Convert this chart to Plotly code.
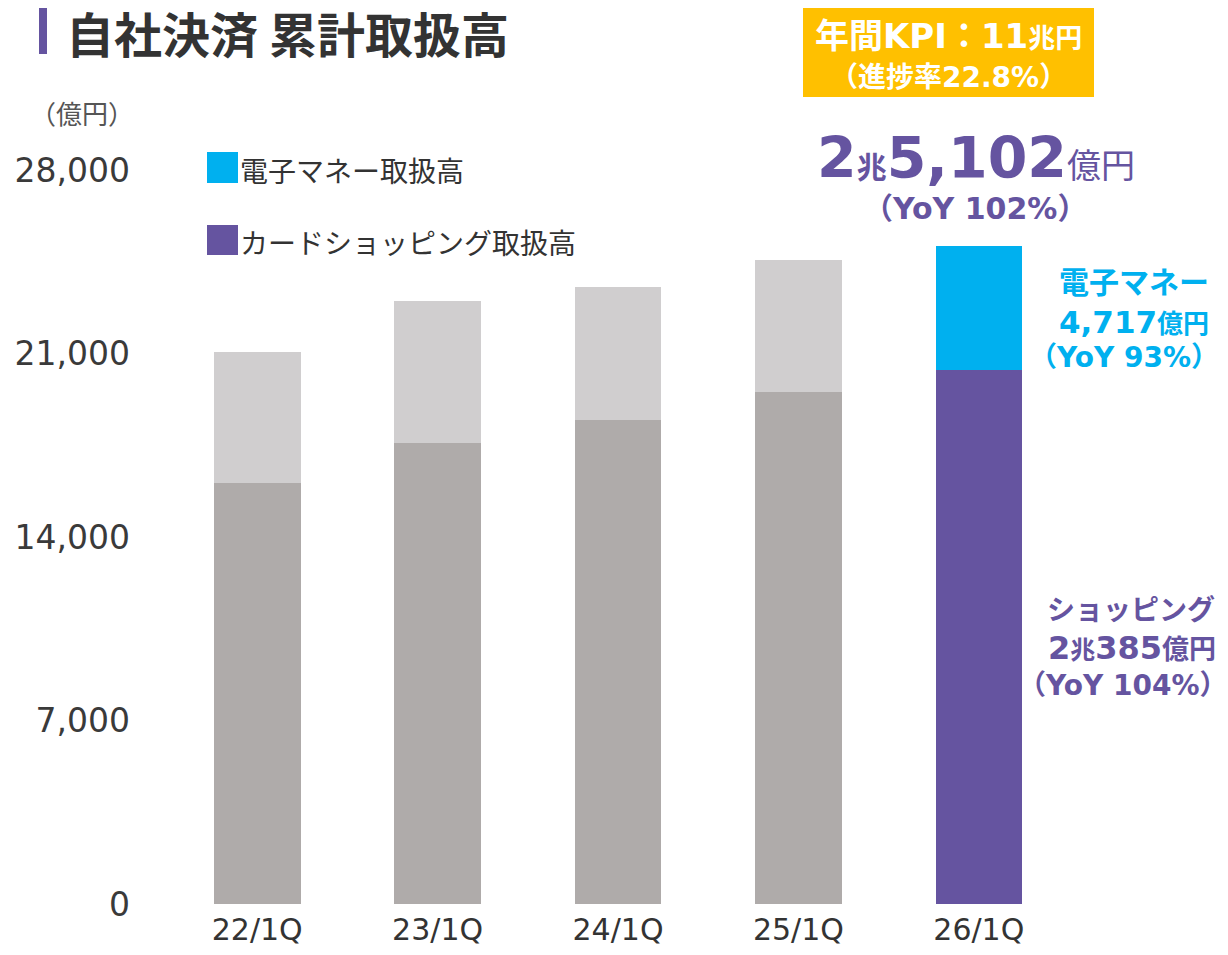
import plotly.graph_objects as go

# ── data (億円) ────────────────────────────────────────────────
categories = ["22/1Q", "23/1Q", "24/1Q", "25/1Q", "26/1Q"]
shopping = [16050, 17570, 18460, 19520, 20385]
emoney = [5010, 5430, 5080, 5050, 4717]
y_ticks = [0, 7000, 14000, 21000, 28000]
y_tick_text = ["0", "7,000", "14,000", "21,000", "28,000"]

# ── palette ───────────────────────────────────────────────────
PURPLE = "#6554A0"
CYAN = "#00B0EF"
GRAY_DARK = "#AFABAA"
GRAY_LIGHT = "#D0CECF"
ORANGE = "#FFC000"
TEXT = "#333333"
FONT = "DejaVu Sans, Noto Sans CJK JP"
JP = "Noto Sans CJK JP"

# page body has an 8px margin on every side; keep the page exactly 1228x955
OFF = 8
W, H = 1228 - 2 * OFF, 955 - 2 * OFF
ML, MT = 167 - OFF, 170 - OFF
MR, MB = (1228 - OFF) - 1069, (955 - OFF) - 904


def px(x):
    """page pixel x -> paper x"""
    return (x - OFF - ML) / (W - ML - MR)


def py(y):
    """page pixel y -> paper y"""
    return (H - MB - (y - OFF)) / (H - MT - MB)


last = len(categories) - 1
low_colors = [PURPLE if i == last else GRAY_DARK for i in range(len(categories))]
up_colors = [CYAN if i == last else GRAY_LIGHT for i in range(len(categories))]

fig = go.Figure()
fig.add_trace(go.Bar(x=categories, y=shopping, marker=dict(color=low_colors, line_width=0),
                     name="カードショッピング取扱高"))
fig.add_trace(go.Bar(x=categories, y=emoney, marker=dict(color=up_colors, line_width=0),
                     name="電子マネー取扱高"))

fig.update_layout(
    width=W, height=H,
    margin=dict(l=ML, r=MR, t=MT, b=MB, autoexpand=False),
    barmode="stack", bargap=0.52,
    paper_bgcolor="white", plot_bgcolor="white",
    showlegend=False,
    font=dict(family=FONT, color=TEXT),
    xaxis=dict(tickfont=dict(size=30, color=TEXT), ticks="", showline=False,
               showgrid=False, ticklabelstandoff=5, automargin=False),
    yaxis=dict(range=[0, 28000], tickvals=y_ticks, ticktext=y_tick_text,
               tickfont=dict(size=33, color="#3a3a3a"), showgrid=False, zeroline=False,
               showline=False, ticks="", ticklabelstandoff=36, automargin=False),
)

shapes = [
    # title accent bar
    dict(type="rect", x0=px(39), x1=px(47), y0=py(8), y1=py(54), fillcolor=PURPLE),
    # KPI box
    dict(type="rect", x0=px(803), x1=px(1094), y0=py(3), y1=py(97), fillcolor=ORANGE),
    # legend swatches
    dict(type="rect", x0=px(207), x1=px(238), y0=py(152), y1=py(183), fillcolor=CYAN),
    dict(type="rect", x0=px(207), x1=px(238), y0=py(225), y1=py(255), fillcolor=PURPLE),
]
for s in shapes:
    s.update(xref="paper", yref="paper", line_width=0, layer="above")
fig.update_layout(shapes=shapes)


def note(text, x, y, size, color=TEXT, xanchor="center", family=FONT):
    fig.add_annotation(text=text, x=px(x), y=py(y), xref="paper", yref="paper",
                       xanchor=xanchor, yanchor="middle", showarrow=False,
                       font=dict(size=size, color=color, family=family))


note("<b>自社決済 累計取扱高</b>", 64, 32, 48, xanchor="left", family=JP)
note("（億円）", 28, 113, 26, color="#555555", xanchor="left", family=JP)
note("電子マネー取扱高", 238, 170, 28, xanchor="left", family=JP)
note("カードショッピング取扱高", 238, 242, 28, xanchor="left", family=JP)

note("<b>年間KPI：11<span style='font-size:27px'>兆円</span></b>", 948, 36, 34, color="white")
note("<b>（進捗率22.8%）</b>", 948, 77, 28, color="white")

note("<b>2<span style='font-size:30px'>兆</span>5,102</b>"
     "<span style='font-size:34px'>億円</span>", 976, 158, 57, color=PURPLE)
note("<b>（YoY 102%）</b>", 975, 208, 30, color=PURPLE)

note("<b>電子マネー</b>", 1134, 282, 30, color=CYAN)
note("<b>4,717<span style='font-size:26px'>億円</span></b>", 1134, 322, 31, color=CYAN)
note("<b>（YoY 93%）</b>", 1124, 357, 28, color=CYAN)

note("<b>ショッピング</b>", 1131, 610, 28, color=PURPLE)
note("<b>2<span style='font-size:25px'>兆</span>385<span style='font-size:27px'>億円</span></b>",
     1132, 648, 32, color=PURPLE)
note("<b>（YoY 104%）</b>", 1122, 685, 28, color=PURPLE)

fig.write_html("out.html")
